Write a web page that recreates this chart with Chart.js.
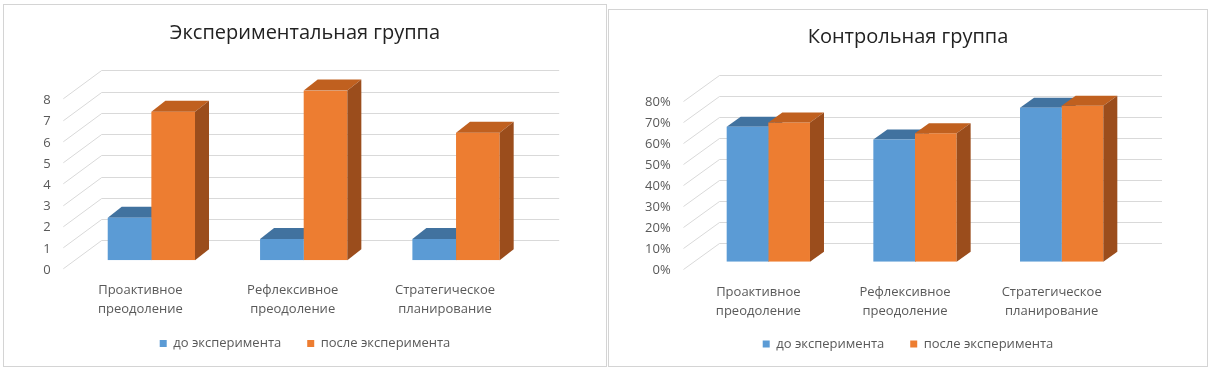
<!DOCTYPE html>
<html>
<head>
<meta charset="utf-8">
<script src="https://cdn.jsdelivr.net/npm/chart.js@4.4.1/dist/chart.umd.min.js"></script>
<style>
  body { margin: 0; background: #fff; width: 1210px; height: 372px; position: relative; overflow: hidden; }
  .box { position: absolute; border: 1px solid #d4d4d4; background: #fff; }
  #b1 { left: 3px; top: 4px; width: 602px; height: 361px; }
  #b2 { left: 608px; top: 9px; width: 598px; height: 356px; }
  canvas { display: block; }
</style>
</head>
<body>
<div class="box" id="b1"><canvas id="expChart" width="602" height="361"></canvas></div>
<div class="box" id="b2"><canvas id="ctrlChart" width="598" height="356"></canvas></div>
<script>
const categories = [['Проактивное', 'преодоление'], ['Рефлексивное', 'преодоление'], ['Стратегическое', 'планирование']];
const seriesNames = ['до эксперимента', 'после эксперимента'];

// Экспериментальная группа (человек)
const expBefore = [2, 1, 1];
const expAfter = [7, 8, 6];

// Контрольная группа (%)
const ctrlBefore = [64, 58, 73];
const ctrlAfter = [66, 61, 74];

const FONT = "'Open Sans', 'Liberation Sans', sans-serif";
const BLUE = { front: '#5b9bd5', top: '#41729f', side: '#3a6590' };
const ORANGE = { front: '#ed7d31', top: '#c0601f', side: '#9b4d1c' };

// fake 3D: back wall gridlines + top/side faces of the columns
function faces(chart, i, o) {
  const ctx = chart.ctx;
  const ds = chart.data.datasets[i];
  chart.getDatasetMeta(i).data.forEach(bar => {
    const { x, y, base, width } = bar.getProps(['x', 'y', 'base', 'width'], true);
    const l = x - width / 2, r = x + width / 2;
    ctx.fillStyle = ds.topColor;
    ctx.beginPath();
    ctx.moveTo(l, y); ctx.lineTo(r, y); ctx.lineTo(r + o.dx, y - o.dy); ctx.lineTo(l + o.dx, y - o.dy);
    ctx.closePath(); ctx.fill();
    ctx.fillStyle = ds.sideColor;
    ctx.beginPath();
    ctx.moveTo(r, y); ctx.lineTo(r + o.dx, y - o.dy); ctx.lineTo(r + o.dx, base - o.dy); ctx.lineTo(r, base);
    ctx.closePath(); ctx.fill();
  });
}

const box3d = {
  id: 'box3d',
  beforeDatasetsDraw(chart, args, o) {
    const { ctx, chartArea: a, scales: { y } } = chart;
    ctx.save();
    ctx.strokeStyle = '#d9d9d9';
    ctx.lineWidth = 1;
    y.ticks.forEach(t => {
      const yb = Math.round(y.getPixelForValue(t.value) - o.wallY) + 0.5;
      const xb = a.left + o.wallX;
      ctx.beginPath();
      ctx.moveTo(xb + o.frontX, yb + o.frontY);
      ctx.lineTo(xb, yb);
      ctx.lineTo(a.right + o.wallRight, yb);
      ctx.stroke();
    });
    faces(chart, 0, o);
    ctx.restore();
  },
  afterDatasetsDraw(chart, args, o) {
    chart.ctx.save();
    faces(chart, 1, o);
    chart.ctx.restore();
  }
};

function makeChart(id, title, before, after, yMax, step, fmt, g) {
  const tickFont = { family: FONT, size: 13 };
  return new Chart(document.getElementById(id), {
    type: 'bar',
    data: {
      labels: categories,
      datasets: [
        { label: seriesNames[0], data: before, backgroundColor: BLUE.front, topColor: BLUE.top, sideColor: BLUE.side, borderWidth: 0 },
        { label: seriesNames[1], data: after, backgroundColor: ORANGE.front, topColor: ORANGE.top, sideColor: ORANGE.side, borderWidth: 0 }
      ]
    },
    options: {
      responsive: false,
      animation: false,
      layout: { padding: { left: 0, right: 0, top: 0, bottom: g.padBottom } },
      datasets: { bar: { categoryPercentage: g.cat, barPercentage: 1 } },
      plugins: {
        title: {
          display: true, text: title, color: '#222',
          font: { family: FONT, size: 20, weight: 'normal' },
          padding: { top: g.titleTop, bottom: g.titleBottom }
        },
        legend: {
          position: 'bottom',
          labels: { boxWidth: 7, boxHeight: 7, padding: 26, color: '#595959', font: { family: FONT, size: 13 } }
        },
        tooltip: { enabled: false },
        box3d: g.d3
      },
      scales: {
        x: {
          grid: { display: false, drawTicks: false },
          border: { display: false },
          ticks: { color: '#595959', font: { family: FONT, size: 13, lineHeight: 1.45 }, padding: g.xPad, labelOffset: g.xOff, maxRotation: 0 },
          afterFit: s => { s.height = g.xH; },
          // two-line labels run a little into the legend band, so don't clip them
          afterUpdate: s => { s._computeLabelArea = () => null; }
        },
        y: {
          min: 0, max: yMax,
          grid: { display: false, drawTicks: false },
          border: { display: false },
          ticks: { stepSize: step, color: '#595959', font: tickFont, padding: g.yPad, labelOffset: g.yOff, callback: fmt },
          afterFit: s => { s.width = g.yW; }
        },
        pad: {
          type: 'linear', position: 'right',
          grid: { display: false, drawTicks: false },
          border: { display: false },
          ticks: { display: false },
          afterFit: s => { s.width = g.rW; }
        }
      }
    },
    plugins: [box3d]
  });
}

makeChart('expChart', 'Экспериментальная группа', expBefore, expAfter, 8, 1, v => v, {
  padBottom: 6, cat: 0.573, titleTop: 16.7, titleBottom: 44.7,
  xPad: 20.5, xOff: -11, xH: 50.8, yPad: 24.5, yOff: 10, yW: 71.2, rW: 73.8,
  d3: { dx: 14, dy: 11, wallX: 26.5, wallY: 20, wallRight: 27, frontX: -38.4, frontY: 28.3 }
});

makeChart('ctrlChart', 'Контрольная группа', ctrlBefore, ctrlAfter, 80, 10, v => v + '%', {
  padBottom: 5.5, cat: 0.568, titleTop: 15.7, titleBottom: 43.4,
  xPad: 21, xOff: -10, xH: 49.8, yPad: 24.3, yOff: 9, yW: 86, rW: 72,
  d3: { dx: 14, dy: 10, wallX: 24.5, wallY: 18.4, wallRight: 27, frontX: -36, frontY: 26 }
});
</script>
</body>
</html>
